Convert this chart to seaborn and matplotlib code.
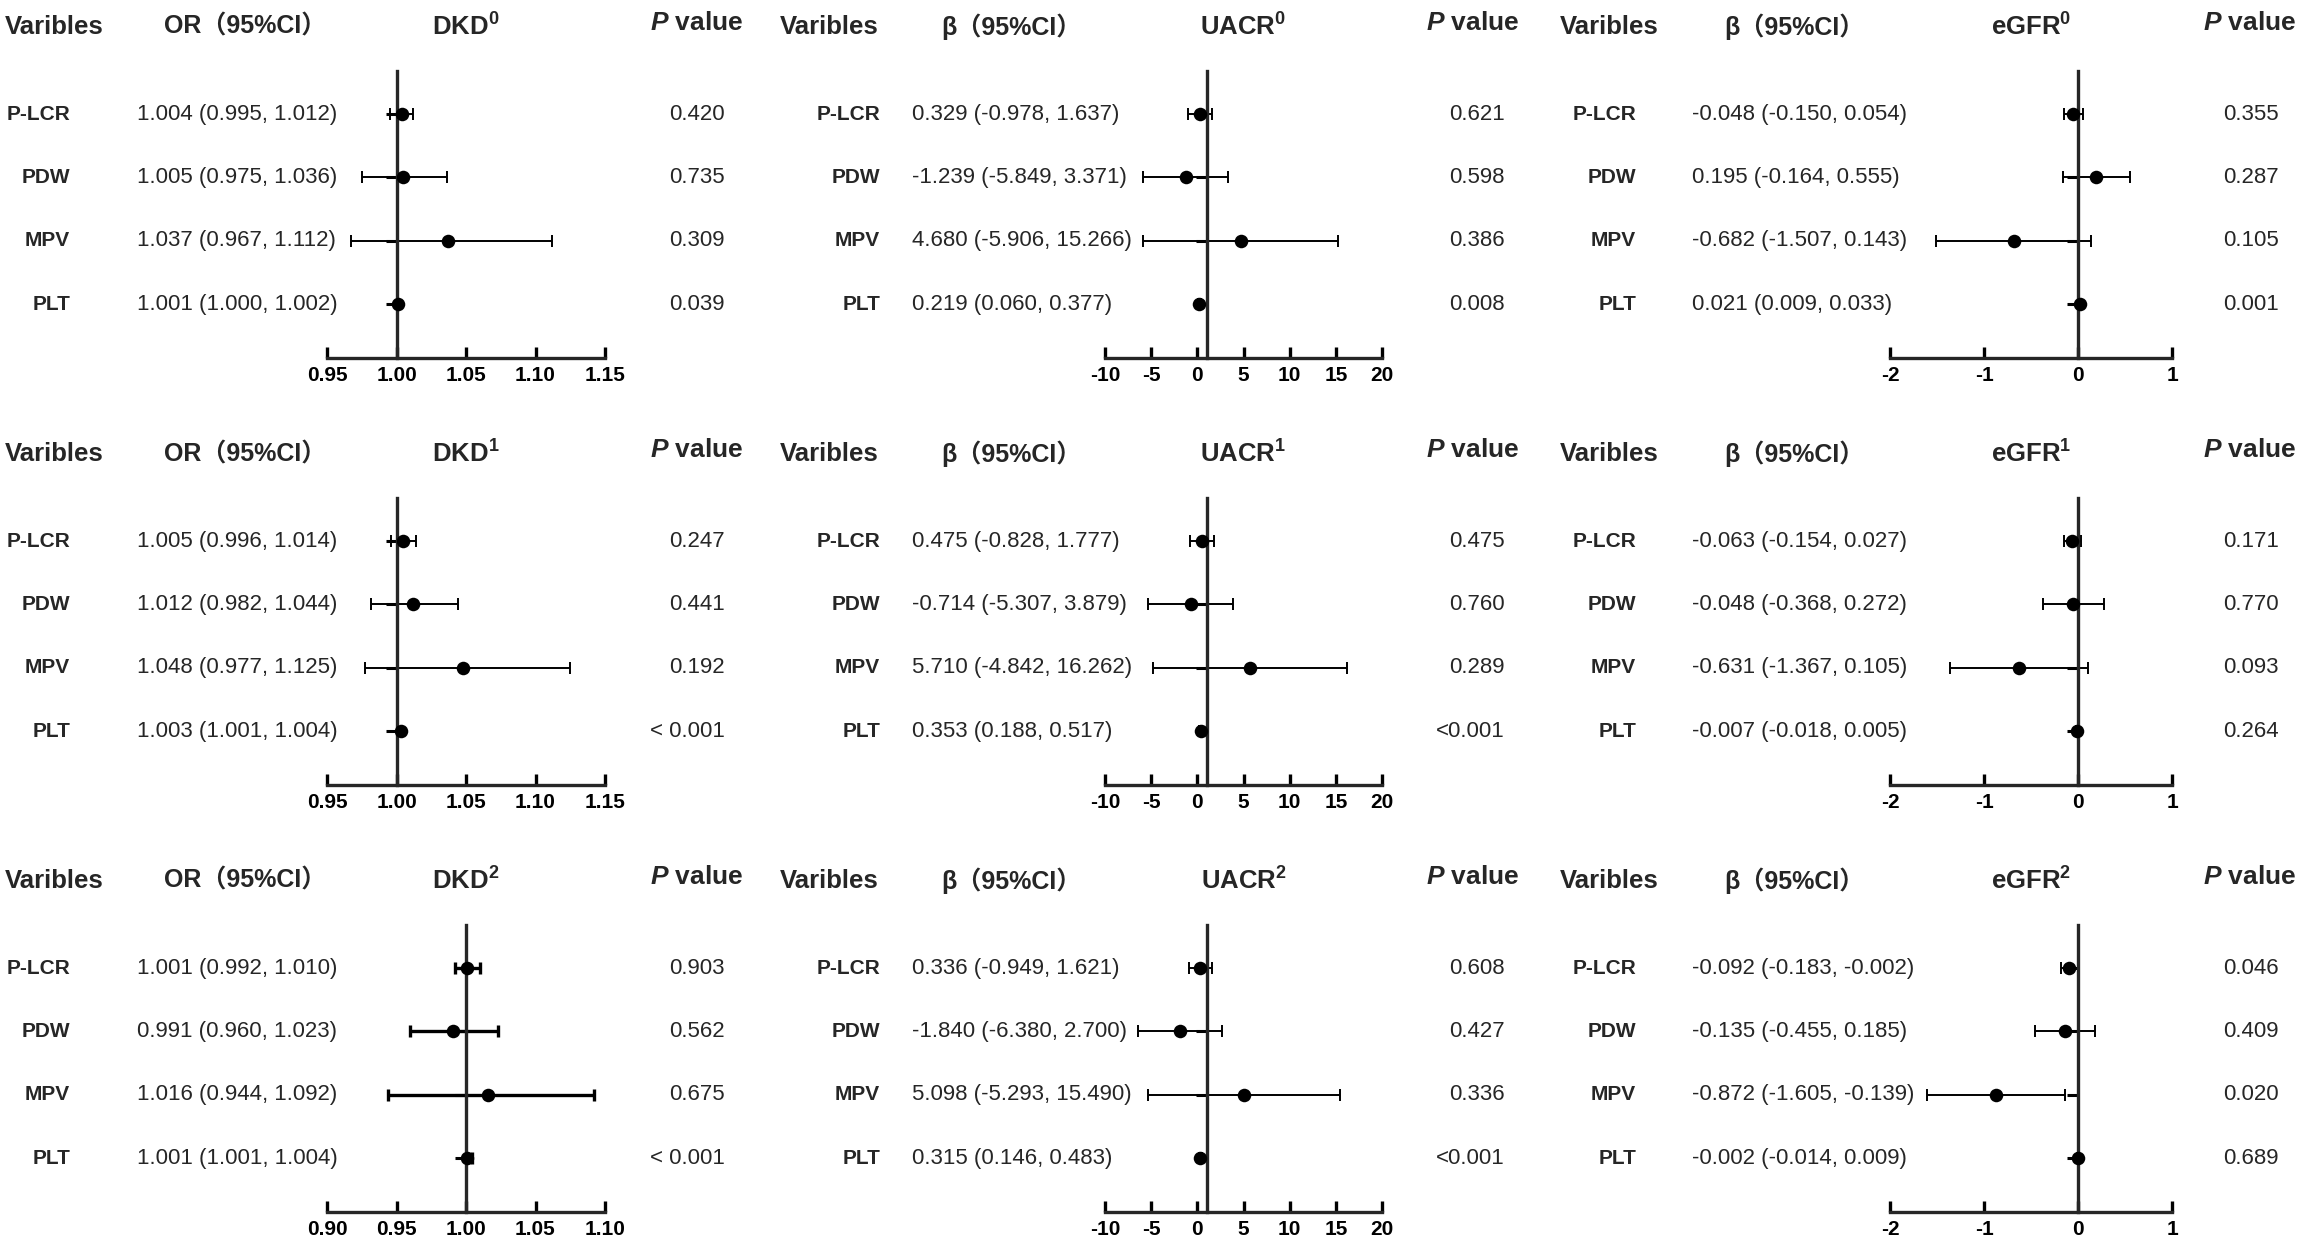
import matplotlib.pyplot as plt
from matplotlib import transforms
import numpy as np
import pandas as pd
import seaborn as sns

# settings
sns.set_theme(style="ticks")
plt.rcParams['font.family'] = ['Liberation Sans', 'Noto Sans CJK SC', 'DejaVu Sans']
plt.rcParams['mathtext.fontset'] = 'custom'
plt.rcParams['mathtext.rm'] = 'Liberation Sans'
plt.rcParams['mathtext.it'] = 'Liberation Sans:italic'
plt.rcParams['mathtext.bf'] = 'Liberation Sans:bold'
plt.rcParams['mathtext.bfit'] = 'Liberation Sans:italic:bold'

variables = ['P-LCR', 'PDW', 'MPV', 'PLT']

# DKD, odds ratios
dkd0_est = [1.004, 1.005, 1.037, 1.001]
dkd0_lo = [0.995, 0.975, 0.967, 1.000]
dkd0_hi = [1.012, 1.036, 1.112, 1.002]
dkd0_p = ['0.420', '0.735', '0.309', '0.039']

dkd1_est = [1.005, 1.012, 1.048, 1.003]
dkd1_lo = [0.996, 0.982, 0.977, 1.001]
dkd1_hi = [1.014, 1.044, 1.125, 1.004]
dkd1_p = ['0.247', '0.441', '0.192', '< 0.001']

dkd2_est = [1.001, 0.991, 1.016, 1.001]
dkd2_lo = [0.992, 0.960, 0.944, 1.001]
dkd2_hi = [1.010, 1.023, 1.092, 1.004]
dkd2_p = ['0.903', '0.562', '0.675', '< 0.001']

# UACR, beta
uacr0_est = [0.329, -1.239, 4.680, 0.219]
uacr0_lo = [-0.978, -5.849, -5.906, 0.060]
uacr0_hi = [1.637, 3.371, 15.266, 0.377]
uacr0_p = ['0.621', '0.598', '0.386', '0.008']

uacr1_est = [0.475, -0.714, 5.710, 0.353]
uacr1_lo = [-0.828, -5.307, -4.842, 0.188]
uacr1_hi = [1.777, 3.879, 16.262, 0.517]
uacr1_p = ['0.475', '0.760', '0.289', '<0.001']

uacr2_est = [0.336, -1.840, 5.098, 0.315]
uacr2_lo = [-0.949, -6.380, -5.293, 0.146]
uacr2_hi = [1.621, 2.700, 15.490, 0.483]
uacr2_p = ['0.608', '0.427', '0.336', '<0.001']

# eGFR, beta
egfr0_est = [-0.048, 0.195, -0.682, 0.021]
egfr0_lo = [-0.150, -0.164, -1.507, 0.009]
egfr0_hi = [0.054, 0.555, 0.143, 0.033]
egfr0_p = ['0.355', '0.287', '0.105', '0.001']

egfr1_est = [-0.063, -0.048, -0.631, -0.007]
egfr1_lo = [-0.154, -0.368, -1.367, -0.018]
egfr1_hi = [0.027, 0.272, 0.105, 0.005]
egfr1_p = ['0.171', '0.770', '0.093', '0.264']

egfr2_est = [-0.092, -0.135, -0.872, -0.002]
egfr2_lo = [-0.183, -0.455, -1.605, -0.014]
egfr2_hi = [-0.002, 0.185, -0.139, 0.009]
egfr2_p = ['0.046', '0.409', '0.020', '0.689']

outcomes = ['DKD', 'UACR', 'eGFR']
stat_headers = ['OR（95%CI）', 'β（95%CI）', 'β（95%CI）']
ref_lines = [1, 1, 0]
dkd_ticks_a = [0.95, 1.00, 1.05, 1.10, 1.15]
dkd_ticks_b = [0.90, 0.95, 1.00, 1.05, 1.10]
uacr_ticks = [-10, -5, 0, 5, 10, 15, 20]
egfr_ticks = [-2, -1, 0, 1]

panels = [
    [(dkd0_est, dkd0_lo, dkd0_hi, dkd0_p, dkd_ticks_a),
     (uacr0_est, uacr0_lo, uacr0_hi, uacr0_p, uacr_ticks),
     (egfr0_est, egfr0_lo, egfr0_hi, egfr0_p, egfr_ticks)],
    [(dkd1_est, dkd1_lo, dkd1_hi, dkd1_p, dkd_ticks_a),
     (uacr1_est, uacr1_lo, uacr1_hi, uacr1_p, uacr_ticks),
     (egfr1_est, egfr1_lo, egfr1_hi, egfr1_p, egfr_ticks)],
    [(dkd2_est, dkd2_lo, dkd2_hi, dkd2_p, dkd_ticks_b),
     (uacr2_est, uacr2_lo, uacr2_hi, uacr2_p, uacr_ticks),
     (egfr2_est, egfr2_lo, egfr2_hi, egfr2_p, egfr_ticks)],
]

# layout in pixels
W, H = 2304, 1248
row_step = 427
ax_x0 = [327, 1105, 1890]
ax_x1 = [605, 1382, 2172]
var_x = [5, 780, 1560]
lab_x = [70, 880, 1636]
ci_x = [137, 912, 1692]
stat_x = [245, 1011, 1794]
phead_x = [697, 1473, 2250]
pval_x = [725, 1505, 2279]


def tick_label(t):
    if isinstance(t, int):
        return str(t)
    return f'{t:.2f}'


fig = plt.figure(figsize=(W / 100, H / 100), dpi=100)
fig.patch.set_facecolor('white')

for r in range(3):
    oy = r * row_step
    for c in range(3):
        est, lo, hi, pvals, ticks = panels[r][c]
        ax = fig.add_axes([ax_x0[c] / W, 1 - (358 + oy) / H,
                           (ax_x1[c] - ax_x0[c]) / W, (358 - 71) / H])
        ax.set_facecolor('none')
        df = pd.DataFrame({'var': variables, 'y': np.arange(4), 'est': est,
                           'lo': lo, 'hi': hi})
        lw = 2.4 if (r == 2 and c == 0) else 1.4
        eb = ax.errorbar(df['est'], df['y'],
                         xerr=[df['est'] - df['lo'], df['hi'] - df['est']],
                         fmt='none', ecolor='black', elinewidth=lw,
                         capsize=4.5, capthick=lw, zorder=2)
        for art in eb.lines[1] + eb.lines[2]:
            art.set_clip_on(False)
        sns.scatterplot(data=df, x='est', y='y', color='black', s=95,
                        linewidth=0, zorder=4, ax=ax, clip_on=False)
        ax.set_xlim(ticks[0], ticks[-1])
        ax.set_ylim(3.85, -0.68)
        ax.set_xlabel('')
        ax.set_ylabel('')
        ax.spines['top'].set_visible(False)
        ax.spines['right'].set_visible(False)
        ax.spines['left'].set_position(('data', ref_lines[c]))
        ax.spines['left'].set_linewidth(2.4)
        ax.spines['bottom'].set_linewidth(2.4)
        ax.set_xticks(ticks)
        ax.set_xticklabels([tick_label(t) for t in ticks], fontsize=15,
                           fontweight='bold')
        ax.set_yticks(range(4))
        ax.set_yticklabels([])
        ax.tick_params(axis='x', direction='in', length=8, width=2.4, pad=6,
                       colors='black')
        ax.tick_params(axis='y', direction='out', length=8, width=2.2,
                       colors='black')

        # row texts
        tr = transforms.blended_transform_factory(fig.transFigure, ax.transData)
        for i in range(4):
            ax.text(lab_x[c] / W, i, variables[i], transform=tr, ha='right',
                    va='center', fontsize=15, fontweight='bold')
            ax.text(ci_x[c] / W, i, f'{est[i]:.3f} ({lo[i]:.3f}, {hi[i]:.3f})',
                    transform=tr, ha='left', va='center', fontsize=16)
            ax.text(pval_x[c] / W, i, pvals[i], transform=tr, ha='right',
                    va='center', fontsize=16)

        # headers
        hy = 1 - (27 + oy) / H
        fig.text(var_x[c] / W, hy, 'Varibles', ha='left', va='center',
                 fontsize=18.5, fontweight='bold')
        fig.text(stat_x[c] / W, hy, stat_headers[c], ha='center', va='center',
                 fontsize=18, fontweight='bold')
        fig.text((ax_x0[c] + ax_x1[c]) / 2 / W, hy,
                 outcomes[c] + r'$^{\mathbf{' + str(r) + '}}$',
                 ha='center', va='center', fontsize=18.5, fontweight='bold')
        fig.text(phead_x[c] / W, 1 - (23 + oy) / H, r'$\mathbfit{P}$ value',
                 ha='center', va='center', fontsize=19, fontweight='bold')

fig.savefig('out.png', dpi=100, facecolor='white')
